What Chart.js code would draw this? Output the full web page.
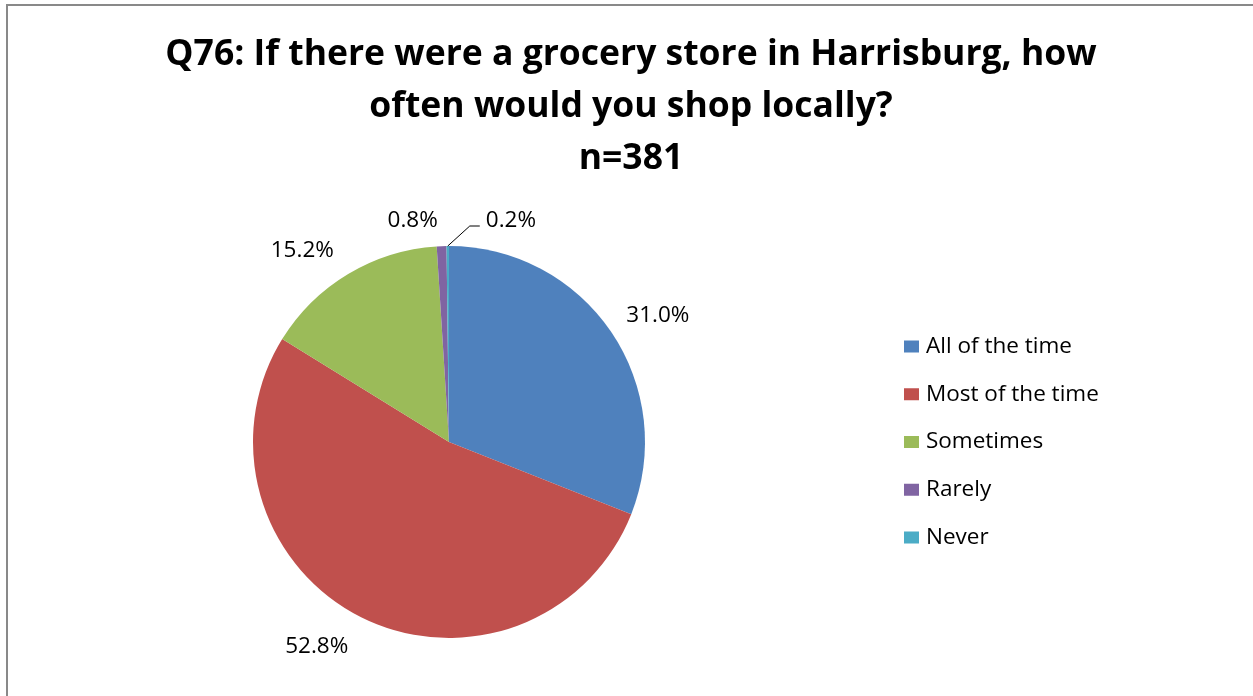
<!DOCTYPE html>
<html>
<head>
<meta charset="utf-8">
<script src="https://cdn.jsdelivr.net/npm/chart.js@4"></script>
<style>
  html, body { margin: 0; padding: 0; background: #fff; }
  #wrap { width: 1253px; height: 696px; }
</style>
</head>
<body>
<div id="wrap"><canvas id="pieChart" width="1253" height="696"></canvas></div>
<script>
const titleLines = ['Q76: If there were a grocery store in Harrisburg, how', 'often would you shop locally?', 'n=381'];
const categories = ['All of the time', 'Most of the time', 'Sometimes', 'Rarely', 'Never'];
const percents = [31.0, 52.8, 15.2, 0.8, 0.2];
const colors = ['#4F81BD', '#C0504D', '#9BBB59', '#8064A2', '#4BACC6'];

const fontName = '"Open Sans", sans-serif';

// frame, title, percentage labels and legend
const decorations = {
    id: 'decorations',
    beforeDraw(chart) {
        const c = chart.ctx;
        c.save();
        c.fillStyle = '#ffffff';
        c.fillRect(0, 0, chart.width, chart.height);
        c.strokeStyle = '#898989';
        c.lineWidth = 2;
        c.beginPath();
        c.moveTo(7, chart.height);
        c.lineTo(7, 5);
        c.lineTo(chart.width, 5);
        c.stroke();
        c.restore();
    },
    afterDraw(chart) {
        const c = chart.ctx;
        c.save();

        // title
        c.fillStyle = '#000';
        c.font = 'bold 35.5px ' + fontName;
        c.textAlign = 'center';
        c.textBaseline = 'middle';
        titleLines.forEach((t, i) => c.fillText(t, 631, 55 + i * 52));

        // labels outside the slices
        const arcs = chart.getDatasetMeta(0).data;
        c.font = '22.5px ' + fontName;
        c.textBaseline = 'middle';
        arcs.forEach((arc, i) => {
            const mid = (arc.startAngle + arc.endAngle) / 2;
            const cx = arc.x, cy = arc.y, r = arc.outerRadius;
            const text = percents[i].toFixed(1) + '%';
            const ux = Math.cos(mid), uy = Math.sin(mid);
            if (i === percents.length - 1) {
                // tiny slice: leader line out to the right
                const sx = cx + ux * r, sy = cy + uy * r;
                c.strokeStyle = '#000';
                c.lineWidth = 1;
                c.beginPath();
                c.moveTo(sx, sy);
                c.lineTo(sx + 22, sy - 20);
                c.lineTo(sx + 32, sy - 20);
                c.stroke();
                c.textAlign = 'left';
                c.fillText(text, sx + 38, sy - 25);
                return;
            }
            const R = r + 22;
            const lx = cx + ux * R, ly = cy + uy * R;
            c.textAlign = ux < 0 ? 'right' : 'left';
            c.fillText(text, lx - 3, ly + (uy > 0 ? 10 : -4));
        });

        // legend
        c.font = '22.5px ' + fontName;
        c.textAlign = 'left';
        categories.forEach((name, i) => {
            const y = 346.5 + i * 47.75;
            c.fillStyle = colors[i];
            c.fillRect(904, y - 6, 15, 12);
            c.fillStyle = '#000';
            c.fillText(name, 926, y);
        });
        c.restore();
    }
};

const ctx = document.getElementById('pieChart');

new Chart(ctx, {
    type: 'pie',
    data: {
        labels: categories,
        datasets: [{
            data: percents,
            backgroundColor: colors,
            borderWidth: 0
        }]
    },
    options: {
        responsive: false,
        animation: false,
        layout: {
            padding: { left: 253, top: 246, right: 608, bottom: 58 }
        },
        plugins: {
            legend: { display: false },
            title: { display: false },
            tooltip: { enabled: false }
        }
    },
    plugins: [decorations]
});
</script>
</body>
</html>
